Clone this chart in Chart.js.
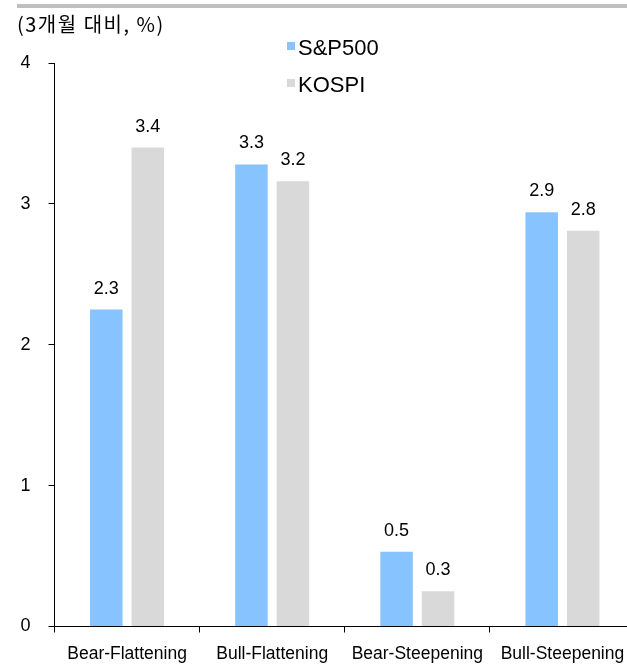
<!DOCTYPE html>
<html>
<head>
<meta charset="utf-8">
<script src="https://cdn.jsdelivr.net/npm/chart.js@4/dist/chart.umd.min.js"></script>
<style>
  html, body { margin: 0; padding: 0; background: #fff; overflow: hidden; }
  #wrap { position: relative; width: 640px; height: 664px; }
</style>
</head>
<body>
<div id="wrap"><canvas id="c" width="640" height="664"></canvas></div>
<script>
// Yield-curve regimes and the 3-month return of each index (%)
const categories = ['Bear-Flattening', 'Bull-Flattening', 'Bear-Steepening', 'Bull-Steepening'];
const sp500 = [2.25, 3.28, 0.53, 2.94];
const kospi = [3.40, 3.16, 0.25, 2.81];
const seriesNames = ['S&P500', 'KOSPI'];
const yTicks = [0, 1, 2, 3, 4];
const unitTitle = '(3개월 대비, %)';

const SANS = "'Liberation Sans', Arial, sans-serif";
const KR = "'Noto Sans CJK KR', 'Liberation Sans', sans-serif";

const fmt = v => (Math.round(v * 10) / 10).toFixed(1);

// Header rule, unit caption and stacked legend
const decorations = {
  id: 'decorations',
  afterDraw(chart) {
    const ctx = chart.ctx;
    ctx.save();
    ctx.fillStyle = '#bfbfbf';
    ctx.fillRect(17, 4, chart.width - 17, 4);

    ctx.fillStyle = '#000';
    ctx.font = '20px ' + KR;
    ctx.textAlign = 'left';
    ctx.textBaseline = 'alphabetic';
    if ('letterSpacing' in ctx) ctx.letterSpacing = '1.5px';
    ctx.fillText(unitTitle, 17, 32);
    if ('letterSpacing' in ctx) ctx.letterSpacing = '0px';

    ctx.font = '22px ' + SANS;
    chart.data.datasets.forEach((ds, i) => {
      const y = 42 + i * 37;
      ctx.fillStyle = ds.backgroundColor;
      ctx.fillRect(287, y, 8, 8);
      ctx.fillStyle = '#000';
      ctx.fillText(ds.label, 298, y + 13);
    });
    ctx.restore();
  }
};

// Value captions above each bar
const barValues = {
  id: 'barValues',
  afterDatasetsDraw(chart) {
    const ctx = chart.ctx;
    ctx.save();
    ctx.fillStyle = '#000';
    ctx.font = '18px ' + SANS;
    ctx.textAlign = 'center';
    ctx.textBaseline = 'alphabetic';
    chart.data.datasets.forEach((ds, di) => {
      chart.getDatasetMeta(di).data.forEach((bar, i) => {
        ctx.fillText(fmt(ds.data[i]), bar.x, bar.y - 16);
      });
    });
    ctx.restore();
  }
};

new Chart(document.getElementById('c'), {
  type: 'bar',
  data: {
    labels: categories,
    datasets: [
      { label: seriesNames[0], data: sp500, backgroundColor: '#87c3ff', borderWidth: 0 },
      { label: seriesNames[1], data: kospi, backgroundColor: '#d9d9d9', borderWidth: 0 }
    ]
  },
  options: {
    responsive: false,
    animation: false,
    events: [],
    layout: { padding: { top: 63, right: 5, left: 0, bottom: 0 } },
    datasets: { bar: { categoryPercentage: 0.572, barPercentage: 0.783 } },
    plugins: { legend: { display: false }, tooltip: { enabled: false }, title: { display: false } },
    scales: {
      x: {
        afterFit(s) { s.height = 37.5; },
        border: { display: true, color: '#000', width: 1 },
        grid: { display: true, drawOnChartArea: false, drawTicks: true, tickLength: 6, color: '#000', offset: true },
        ticks: { color: '#000', font: { family: SANS, size: 17.5 }, padding: 11, maxRotation: 0, autoSkip: false }
      },
      y: {
        min: 0,
        max: 4,
        afterFit(s) { s.width = 54.5; },
        afterBuildTicks(s) { s.ticks = yTicks.map(v => ({ value: v })); },
        border: { display: true, color: '#000', width: 1 },
        grid: { display: true, drawOnChartArea: false, drawTicks: true, tickLength: 6, color: '#000' },
        ticks: { color: '#000', font: { family: SANS, size: 18 }, padding: 18, callback: v => String(v) }
      }
    }
  },
  plugins: [barValues, decorations]
});
</script>
</body>
</html>
